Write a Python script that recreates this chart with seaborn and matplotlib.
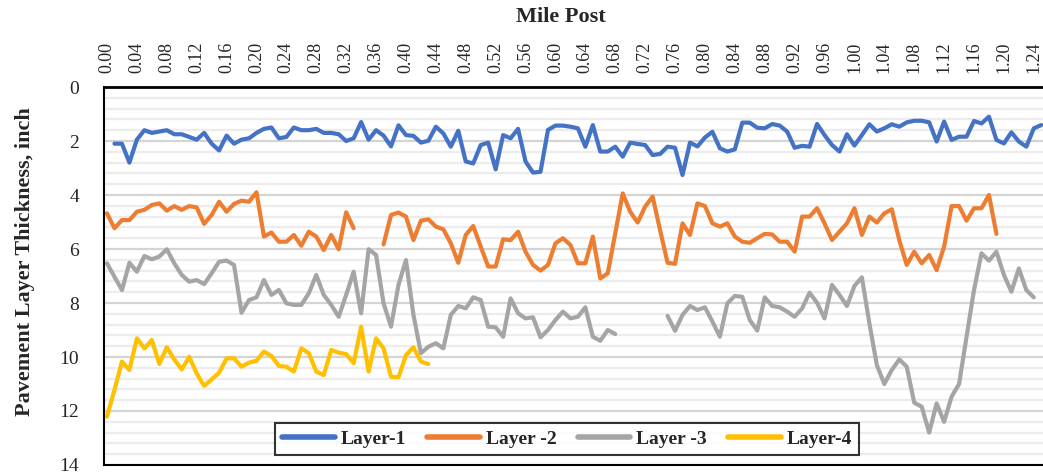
import numpy as np
import pandas as pd
import matplotlib
matplotlib.use("Agg")
import matplotlib.pyplot as plt
from matplotlib.ticker import MultipleLocator, FormatStrFormatter
from matplotlib.lines import Line2D
import seaborn as sns

nan = np.nan

# mile post every 0.01 mile, 0.00 .. 1.25
mile_post = [round(i * 0.01, 2) for i in range(126)]

layer_1 = [nan, 2.1, 2.1, 2.8, 1.95, 1.6, 1.7, 1.65, 1.6, 1.75, 1.75,
           1.85, 1.95, 1.7, 2.1, 2.35, 1.8, 2.1, 1.95, 1.9, 1.7,
           1.55, 1.5, 1.9, 1.85, 1.5, 1.6, 1.6, 1.55, 1.7, 1.7,
           1.75, 2.0, 1.9, 1.3, 1.95, 1.6, 1.8, 2.2, 1.42, 1.78,
           1.81, 2.06, 1.99, 1.47, 1.72, 2.21, 1.62, 2.76, 2.83, 2.15,
           2.06, 3.05, 1.78, 1.9, 1.55, 2.76, 3.17, 3.14, 1.59, 1.43,
           1.43, 1.47, 1.53, 2.21, 1.41, 2.39, 2.39, 2.21, 2.58, 2.06,
           2.11, 2.15, 2.52, 2.48, 2.21, 2.25, 3.26, 2.06, 2.2, 1.87,
           1.66, 2.27, 2.39, 2.31, 1.32, 1.32, 1.51, 1.53, 1.37, 1.43,
           1.65, 2.25, 2.18, 2.21, 1.37, 1.78, 2.15, 2.39, 1.75, 2.17,
           1.78, 1.38, 1.65, 1.53, 1.38, 1.47, 1.31, 1.25, 1.25, 1.31,
           2.02, 1.28, 1.96, 1.84, 1.84, 1.26, 1.35, 1.1, 1.96, 2.09,
           1.68, 2.02, 2.21, 1.53, 1.41]

layer_2 = [4.68, 5.23, 4.93, 4.93, 4.62, 4.55, 4.37, 4.31, 4.58, 4.41,
           4.55, 4.41, 4.46, 5.07, 4.74, 4.25, 4.62, 4.33, 4.21, 4.25,
           3.9, 5.54, 5.39, 5.73, 5.73, 5.48, 5.88, 5.36, 5.54, 6.04,
           5.48, 6.01, 4.64, 5.23, nan, nan, nan, 5.83, 4.74, 4.65,
           4.8, 5.67, 4.95, 4.9, 5.17, 5.27, 5.79, 6.51, 5.48, 5.15,
           5.91, 6.65, 6.65, 5.64, 5.67, 5.36, 6.1, 6.59, 6.8, 6.59,
           5.79, 5.6, 5.85, 6.53, 6.53, 5.54, 7.09, 6.9, 5.42, 3.94,
           4.62, 5.02, 4.43, 4.06, 5.3, 6.51, 6.55, 5.05, 5.48, 4.31,
           4.41, 5.05, 5.17, 5.05, 5.54, 5.73, 5.77, 5.6, 5.44, 5.46,
           5.73, 5.73, 6.1, 4.8, 4.8, 4.49, 5.05, 5.67, 5.36, 5.05,
           4.49, 5.48, 4.8, 5.02, 4.68, 4.53, 5.67, 6.59, 6.1, 6.53,
           6.22, 6.78, 5.91, 4.41, 4.41, 4.95, 4.49, 4.49, 4.0, 5.44,
           nan, nan, nan, nan, nan, nan]

layer_3 = [6.53, 7.03, 7.52, 6.51, 6.84, 6.26, 6.38, 6.28, 6.01, 6.53,
           6.96, 7.21, 7.15, 7.3, 6.9, 6.47, 6.43, 6.59, 8.36, 7.89,
           7.79, 7.15, 7.7, 7.52, 8.01, 8.07, 8.07, 7.64, 6.96, 7.7,
           8.07, 8.51, 7.7, 6.84, 8.38, 6.01, 6.22, 8.01, 8.88, 7.33,
           6.41, 8.44, 9.86, 9.62, 9.49, 9.68, 8.44, 8.11, 8.2, 7.79,
           7.89, 8.88, 8.9, 9.25, 7.83, 8.38, 8.57, 8.53, 9.27, 9.0,
           8.63, 8.32, 8.57, 8.51, 8.16, 9.25, 9.4, 9.0, 9.15, nan,
           nan, nan, nan, nan, nan, 8.48, 9.03, 8.44, 8.11, 8.26,
           8.16, 8.69, 9.25, 8.01, 7.74, 7.77, 8.63, 9.02, 7.79, 8.11,
           8.16, 8.32, 8.51, 8.2, 7.62, 7.99, 8.57, 7.33, 7.7, 8.11,
           7.37, 7.05, 8.75, 10.3, 11.0, 10.48, 10.09, 10.36, 11.69, 11.84,
           12.8, 11.72, 12.4, 11.47, 11.0, 9.25, 7.52, 6.16, 6.43, 6.1,
           6.96, 7.58, 6.72, 7.52, 7.79, nan]

layer_4 = [12.21, 11.22, 10.17, 10.48, 9.31, 9.68, 9.37, 10.26, 9.64, 10.09,
           10.46, 9.99, 10.61, 11.07, 10.83, 10.58, 10.05, 10.05, 10.36, 10.21,
           10.14, 9.8, 9.96, 10.33, 10.36, 10.54, 9.68, 9.86, 10.54, 10.67,
           9.74, 9.84, 9.89, 10.23, 8.88, 10.54, 9.31, 9.68, 10.73, 10.75,
           9.93, 9.64, 10.17, 10.26]

layer_names = ["Layer-1", "Layer -2", "Layer -3", "Layer-4"]
colors = ["#4472C4", "#ED7D31", "#A5A5A5", "#FFC000"]

# long-form table, split into segments at the gaps
rows = []
seg = 0
for name, vals in zip(layer_names, [layer_1, layer_2, layer_3, layer_4]):
    seg += 1
    for mp, v in zip(mile_post, vals):
        if np.isnan(v):
            seg += 1
            continue
        rows.append({"mile": mp, "thick": v, "layer": name, "seg": seg})
df = pd.DataFrame(rows)

sns.set_style("white")
plt.rcParams["font.family"] = ["Liberation Serif", "DejaVu Serif"]

fig = plt.figure(figsize=(10.43, 4.75), dpi=100)
ax = fig.add_axes([104 / 1043, 1 - 465 / 475, 939 / 1043, 378 / 475])

sns.lineplot(data=df, x="mile", y="thick", hue="layer", units="seg",
             estimator=None, palette=dict(zip(layer_names, colors)),
             hue_order=layer_names, linewidth=3, legend=False, ax=ax,
             solid_capstyle="round", solid_joinstyle="round")

ax.set_xlim(-0.004, 1.2523)
ax.set_ylim(14, 0)

ax.yaxis.set_major_locator(MultipleLocator(2))
ax.yaxis.set_minor_locator(MultipleLocator(0.4))
ax.grid(which="major", axis="y", color="#d4d4d4", linewidth=1.6)
ax.grid(which="minor", axis="y", color="#ececec", linewidth=1.6)
ax.grid(which="major", axis="x", visible=False)
ax.set_axisbelow(True)

ax.xaxis.tick_top()
ax.xaxis.set_label_position("top")
ax.xaxis.set_major_locator(MultipleLocator(0.04))
ax.xaxis.set_major_formatter(FormatStrFormatter("%.2f"))
ax.tick_params(axis="x", which="both", length=0, labelsize=13, rotation=90, pad=10)
ax.tick_params(axis="y", which="both", length=0, labelsize=14, pad=18)

ax.set_xlabel("Mile Post", fontsize=16, fontweight="bold")
ax.xaxis.set_label_coords(0.487, 1.185)
ax.xaxis.label.set_verticalalignment("center")
ax.set_ylabel("Pavement Layer Thickness, inch", fontsize=16, fontweight="bold")
ax.yaxis.set_label_coords(-0.073, 0.537)

for side in ["top", "left", "bottom"]:
    ax.spines[side].set_color("black")
ax.spines["top"].set_linewidth(2)
ax.spines["left"].set_linewidth(1.5)
ax.spines["bottom"].set_linewidth(1.5)
ax.spines["right"].set_visible(False)

handles = [Line2D([0], [0], color=c, lw=4) for c in colors]
leg = ax.legend(handles, layer_names, loc="center", bbox_to_anchor=(0.493, 0.069),
                ncol=4, frameon=True, fancybox=False, handlelength=2.7,
                columnspacing=1.1, handletextpad=0.3, borderpad=0.35,
                prop={"family": ["Liberation Serif"], "weight": "bold", "size": 14})
leg.get_frame().set_edgecolor("black")
leg.get_frame().set_linewidth(1.5)

fig.savefig("out.png", dpi=100)
